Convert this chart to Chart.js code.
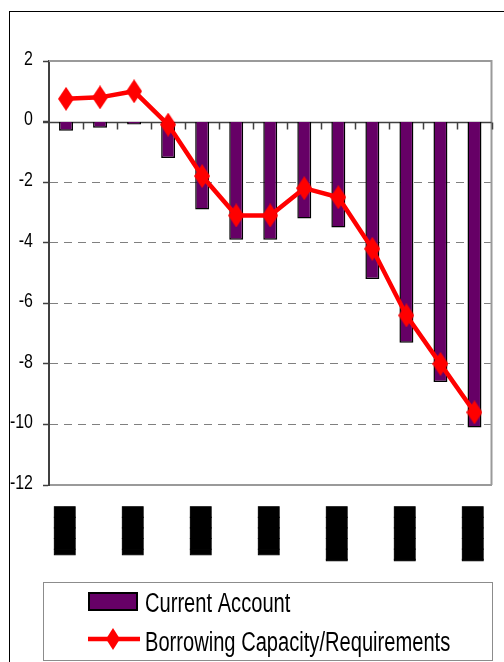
<!DOCTYPE html>
<html>
<head>
<meta charset="utf-8">
<script src="https://cdn.jsdelivr.net/npm/chart.js@4/dist/chart.umd.min.js"></script>
<style>
  html, body { margin: 0; padding: 0; background: #fff; }
  #frame { position: absolute; left: 9px; top: 11px; width: 560px; height: 700px;
           border-left: 1.5px solid #000; border-top: 1.5px solid #000; box-sizing: border-box; }
  #wrap { position: absolute; left: 0; top: 0; width: 504px; height: 662px; overflow: hidden; }
</style>
</head>
<body>
<div id="frame"></div>
<div id="wrap"><canvas id="chart"></canvas></div>
<script>
// Category labels (blacked out on the axis)
const categories = ['▐████', '▐████', '▐████', '▐████', '▐████', '▐████', '▐████', '▐████',
                    '▕█████', '▕█████', '▕█████', '▕█████', '▕█████'];

// Current account balance (bars)
const currentAccount = [-0.3, -0.2, -0.1, -1.2, -2.9, -3.9, -3.9, -3.2, -3.5, -5.2, -7.3, -8.6, -10.1];

// Borrowing capacity / requirements (line)
const borrowing = [0.75, 0.8, 1.0, -0.1, -1.8, -3.1, -3.1, -2.2, -2.5, -4.2, -6.4, -8.0, -9.6];

// Value axis ticks
const yTicks = [2, 0, -2, -4, -6, -8, -10, -12];

const seriesNames = ['Current Account', 'Borrowing Capacity/Requirements'];

const PURPLE = '#660066';
const RED = '#ff0000';
const SANS = "'Liberation Sans', Arial, sans-serif";

function diamond(w, h, color) {
  const c = document.createElement('canvas');
  c.width = w; c.height = h;
  const g = c.getContext('2d');
  g.fillStyle = color;
  g.beginPath();
  g.moveTo(w / 2, 0); g.lineTo(w, h / 2); g.lineTo(w / 2, h); g.lineTo(0, h / 2);
  g.closePath(); g.fill();
  return c;
}
const marker = diamond(16, 24, RED);

// narrow lettering: draw text squeezed horizontally
function narrowText(ctx, text, x, y, align, squeeze) {
  ctx.save();
  ctx.translate(x, y);
  ctx.scale(squeeze, 1);
  ctx.textAlign = align;
  ctx.fillText(text, 0, 0);
  ctx.restore();
}

// Plot frame, zero line with category ticks, value labels and boxed legend
const decorations = {
  id: 'decorations',
  beforeDatasetsDraw(chart) {
    const { ctx, chartArea: a, scales: { x, y } } = chart;
    ctx.save();
    // top and right edges of the plot area
    ctx.strokeStyle = '#9a9a9a';
    ctx.lineWidth = 2;
    ctx.beginPath();
    ctx.moveTo(a.left, a.top); ctx.lineTo(a.right, a.top); ctx.lineTo(a.right, a.bottom);
    ctx.stroke();
    // zero line
    const y0 = Math.round(y.getPixelForValue(0)) + 0.5;
    ctx.strokeStyle = '#404040';
    ctx.lineWidth = 1.5;
    ctx.beginPath();
    ctx.moveTo(a.left - 6, y0); ctx.lineTo(a.right, y0);
    // tick marks between categories
    const n = categories.length;
    const step = x.getPixelForValue(1) - x.getPixelForValue(0);
    for (let i = 1; i <= n; i++) {
      const px = Math.round(x.getPixelForValue(i - 1) + step / 2) + 0.5;
      ctx.moveTo(px, y0); ctx.lineTo(px, y0 + 7);
    }
    ctx.stroke();
    // value axis labels
    ctx.fillStyle = '#000';
    ctx.font = '21px ' + SANS;
    ctx.textBaseline = 'middle';
    y.ticks.forEach(t => {
      narrowText(ctx, String(t.value), a.left - 16, y.getPixelForValue(t.value) - 2, 'right', 0.76);
    });
    ctx.restore();
  },
  afterDraw(chart) {
    const { ctx } = chart;
    const ds = chart.data.datasets;
    ctx.save();
    // legend box
    ctx.strokeStyle = '#8c8c8c';
    ctx.lineWidth = 1;
    ctx.strokeRect(43.5, 582.5, 449, 78);
    // bar swatch
    ctx.fillStyle = PURPLE;
    ctx.fillRect(88, 592, 50, 19);
    ctx.strokeStyle = '#000';
    ctx.lineWidth = 2;
    ctx.strokeRect(89, 593, 48, 17);
    // line swatch
    ctx.strokeStyle = RED;
    ctx.lineWidth = 4.5;
    ctx.beginPath();
    ctx.moveTo(88, 639); ctx.lineTo(140, 639);
    ctx.stroke();
    ctx.drawImage(diamond(14, 22, RED), 113 - 7, 639 - 11);
    // legend text
    ctx.fillStyle = '#000';
    ctx.font = '27px ' + SANS;
    ctx.textBaseline = 'alphabetic';
    narrowText(ctx, ds[1].label, 145, 612, 'left', 0.745);
    narrowText(ctx, ds[0].label, 145, 651, 'left', 0.745);
    ctx.restore();
  }
};

new Chart(document.getElementById('chart'), {
  type: 'bar',
  data: {
    labels: categories,
    datasets: [
      {
        type: 'line',
        label: seriesNames[1],
        data: borrowing,
        borderColor: RED,
        backgroundColor: RED,
        borderWidth: 4.5,
        pointStyle: marker,
        pointRadius: 8,
        tension: 0,
        order: 0
      },
      {
        type: 'bar',
        label: seriesNames[0],
        data: currentAccount,
        backgroundColor: PURPLE,
        borderColor: '#000',
        borderWidth: 1.5,
        barPercentage: 0.41,
        categoryPercentage: 1,
        order: 1
      }
    ]
  },
  options: {
    responsive: true,
    maintainAspectRatio: false,
    animation: false,
    layout: { padding: { top: 61, right: 12, left: 0, bottom: 0 } },
    plugins: { legend: { display: false }, tooltip: { enabled: false } },
    scales: {
      x: {
        type: 'category',
        offset: true,
        grid: { display: false, drawTicks: false },
        border: { display: true, color: '#9a9a9a', width: 2 },
        ticks: {
          autoSkip: false,
          minRotation: 90,
          maxRotation: 90,
          padding: 22,
          color: '#000',
          textStrokeColor: '#000',
          textStrokeWidth: 1,
          font: { family: "'DejaVu Sans Mono', monospace", size: 17.5 },
          callback: (value, index) => (index % 2 === 0 ? categories[index] : '')
        },
        afterFit: (scale) => { scale.height = 177; scale.paddingLeft = 0; scale.paddingRight = 0; }
      },
      y: {
        min: yTicks[yTicks.length - 1],
        max: yTicks[0],
        afterBuildTicks: (scale) => { scale.ticks = yTicks.map(v => ({ value: v })); },
        grid: {
          color: (c) => (c.tick && (c.tick.value === 0 || c.tick.value === yTicks[0] || c.tick.value === yTicks[yTicks.length - 1]) ? 'rgba(0,0,0,0)' : '#808080'),
          lineWidth: 1,
          drawTicks: true,
          tickLength: 6,
          tickColor: '#404040',
          tickWidth: 1.5
        },
        border: { display: true, color: '#404040', width: 2, dash: [8, 6] },
        ticks: { display: false },
        afterFit: (scale) => { scale.width = 49; }
      }
    }
  },
  plugins: [decorations]
});
</script>
</body>
</html>
